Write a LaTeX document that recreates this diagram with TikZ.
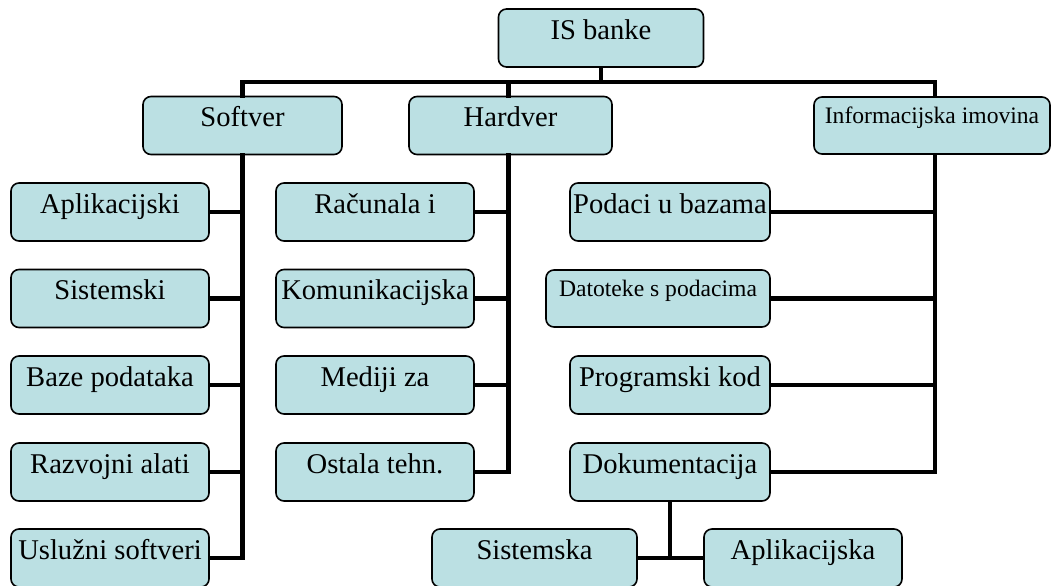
\documentclass[tikz,border=0pt]{standalone}
\usepackage{fontspec}
\setmainfont{Liberation Serif}
\usepackage{xcolor}
\definecolor{boxfill}{RGB}{187,224,227}
\tikzset{%
  item/.style={draw=black, line width=0.8pt, fill=boxfill, rounded corners=4pt,
    inner xsep=0pt, inner ysep=0pt, text height=15pt, text depth=14pt,
    font=\fontsize{14.3}{17}\selectfont},
  itemsmall/.style={item, text height=13pt, text depth=15.5pt,
    font=\fontsize{11.8}{14}\selectfont},
  link/.style={line width=2.2pt, line cap=rect}
}

\begin{document}
\begin{tikzpicture}[x=0.5pt,y=-0.5pt]
\useasboundingbox (0,0) rectangle (1056,585);
% top level
\node[item, minimum width=102.5pt] (root) at (601,38) {IS banke};
\node[item, minimum width=99.5pt] (sw) at (242.5,125.5) {Softver};
\node[item, minimum width=101.5pt] (hw) at (510.5,125.5) {Hardver};
\node[itemsmall, minimum width=118pt] (info) at (932,125.5) {Informacijska imovina};
% softver
\node[item, minimum width=99pt] (swapl) at (110,212) {Aplikacijski};
\node[item, minimum width=99pt] (swsis) at (110,298.5) {Sistemski};
\node[item, minimum width=99pt] (swbaz) at (110,385) {Baze podataka};
\node[item, minimum width=99pt] (swraz) at (110,472) {Razvojni alati};
\node[item, minimum width=99pt] (swusl) at (110,558) {Uslužni softveri};
% hardver
\node[item, minimum width=99pt] (hwrac) at (375,212) {Računala i};
\node[item, minimum width=99pt] (hwkom) at (375,298.5) {Komunikacijska};
\node[item, minimum width=99pt] (hwmed) at (375,385) {Mediji za};
\node[item, minimum width=99pt] (hwost) at (375,472) {Ostala tehn.};
% informacijska imovina
\node[item, minimum width=100pt] (inpod) at (670,212) {Podaci u bazama};
\node[itemsmall, minimum width=112pt] (indat) at (658,298.5) {Datoteke s podacima};
\node[item, minimum width=100pt] (inpro) at (670,385) {Programski kod};
\node[item, minimum width=100pt] (indok) at (670,472) {Dokumentacija};
\node[item, minimum width=102.5pt] (dksis) at (534.5,558) {Sistemska};
\node[item, minimum width=99pt] (dkapl) at (803,558) {Aplikacijska};
% connectors
\coordinate (bus) at ([yshift=-7pt]root.south);
\draw[link] (root.south) -- (bus);
\draw[link] (bus) -| (sw.north);
\draw[link] (bus) -| ([xshift=-1pt]hw.north);
\draw[link] (bus) -| ([xshift=1.5pt]info.north);
\draw[link] (sw.south) |- (swusl.east);
\draw[link] (swapl.east) -- (swapl.east -| sw.south);
\draw[link] (swsis.east) -- (swsis.east -| sw.south);
\draw[link] (swbaz.east) -- (swbaz.east -| sw.south);
\draw[link] (swraz.east) -- (swraz.east -| sw.south);
\draw[link] ([xshift=-1pt]hw.south) |- (hwost.east);
\draw[link] (hwrac.east) -- ([xshift=-1pt]hwrac.east -| hw.south);
\draw[link] (hwkom.east) -- ([xshift=-1pt]hwkom.east -| hw.south);
\draw[link] (hwmed.east) -- ([xshift=-1pt]hwmed.east -| hw.south);
\draw[link] ([xshift=1.5pt]info.south) |- (indok.east);
\draw[link] (inpod.east) -- ([xshift=1.5pt]inpod.east -| info.south);
\draw[link] (indat.east) -- ([xshift=1.5pt]indat.east -| info.south);
\draw[link] (inpro.east) -- ([xshift=1.5pt]inpro.east -| info.south);
\draw[link] (indok.south) -- (indok.south |- dksis.east);
\draw[link] (dksis.east) -- (dkapl.west);
\end{tikzpicture}
\end{document}
